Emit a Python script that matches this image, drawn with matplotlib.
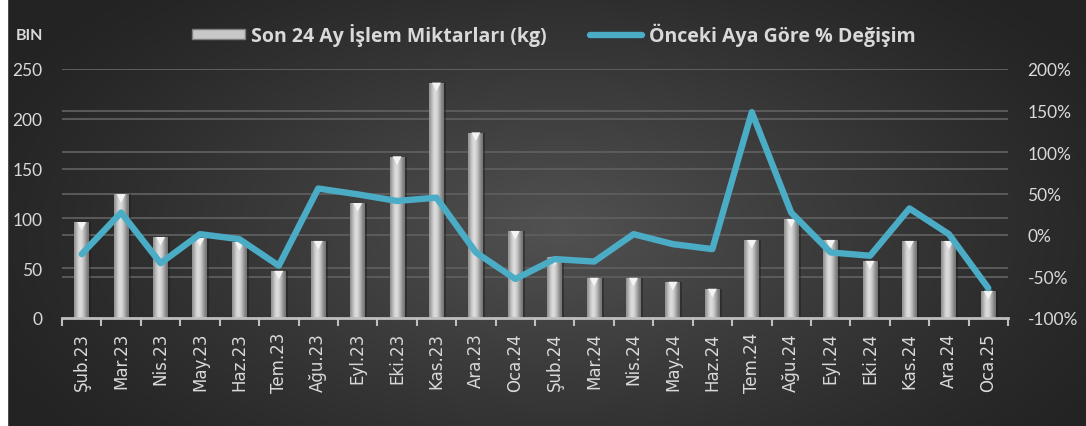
import numpy as np
import matplotlib
matplotlib.use("Agg")
import matplotlib.pyplot as plt
from matplotlib.patches import Patch, Rectangle
from matplotlib.lines import Line2D
from matplotlib.colors import LinearSegmentedColormap
import matplotlib.transforms as mtransforms

months = ["Şub.23", "Mar.23", "Nis.23", "May.23", "Haz.23", "Tem.23", "Ağu.23", "Eyl.23",
          "Eki.23", "Kas.23", "Ara.23", "Oca.24", "Şub.24", "Mar.24", "Nis.24", "May.24",
          "Haz.24", "Tem.24", "Ağu.24", "Eyl.24", "Eki.24", "Kas.24", "Ara.24", "Oca.25"]
volumes = [96, 124, 81, 80, 76, 47, 77, 115, 162, 236, 186, 87,
           61, 40, 40, 36, 29, 78, 99, 78, 57, 77, 77, 27]
pct_change = [-23, 27, -34, 1, -5, -37, 56, 49, 41, 45, -21, -53,
              -29, -32, 1, -11, -17, 148, 27, -21, -25, 32, 1, -64]

left_ticks = [0, 50, 100, 150, 200, 250]
right_ticks = [-100, -50, 0, 50, 100, 150, 200]
bar_label = "Son 24 Ay İşlem Miktarları (kg)"
line_label = "Önceki Aya Göre % Değişim"
unit_label = "BIN"

TXT = "#d9d9d9"
LINE_C = "#4bacc6"
FONT = "Lato"
GRID_C = "#5e5e5e"

W, H = 1086, 427
fig = plt.figure(figsize=(W / 100, H / 100), dpi=100)

# background radial gradient
bg = fig.add_axes([0, 0, 1, 1], zorder=-10)
yy, xx = np.mgrid[0:H, 0:W]
r = np.sqrt(((xx - 560) / 620.0) ** 2 + ((yy - 230) / 330.0) ** 2)
r = np.clip(r, 0, 1)
val = 0.14 + (0.32 - 0.14) * (1 - r) ** 1.2
bg.imshow(np.dstack([val, val, val]), aspect="auto", extent=[0, W, H, 0])
bg.set_xlim(0, W)
bg.set_ylim(H, 0)
bg.axis("off")
bg.add_patch(Rectangle((0, 0), 7, H, color="white", zorder=5))

ax = fig.add_axes([62 / W, (H - 319) / H, (1008 - 62) / W, (319 - 70) / H])
ax.patch.set_alpha(0)
ax2 = ax.twinx()
x = np.arange(len(months))

ax.set_xlim(-0.5, len(months) - 0.5)
ax.set_ylim(0, 250)
ax2.set_ylim(-100, 200)
ax.set_yticks(left_ticks)
for t in left_ticks[1:]:
    ax.axhline(t, color=GRID_C, lw=1.3, zorder=0)
# right-axis gridlines drawn behind the bars, using the right axis scale
for t in right_ticks[1:]:
    ax.add_line(Line2D([-0.5, len(months) - 0.5], [t, t], color=GRID_C, lw=1.3, zorder=0,
                       transform=ax2.transData))

bw = 0.38
bars = ax.bar(x, volumes, width=bw, color="none", zorder=2)
grad = np.array([[0.58, 0.70, 0.81, 0.87, 0.85, 0.78, 0.67, 0.56, 0.46]])
gcmap = LinearSegmentedColormap.from_list("g", ["#000000", "#ffffff"])
for b in bars:
    bx = b.get_x()
    bwid, bh = b.get_width(), b.get_height()
    ax.add_patch(Rectangle((bx + bwid, 0), 0.05, bh, color="#1c1c1c", alpha=0.45, zorder=1.5, lw=0))
    im = ax.imshow(grad, cmap=gcmap, vmin=0, vmax=1, aspect="auto",
                   extent=[bx, bx + bwid, 0, bh], zorder=2, interpolation="bicubic")
    im.set_clip_path(b)

off = mtransforms.ScaledTranslation(0, -4 / 100, fig.dpi_scale_trans)
ax.scatter(x, volumes, marker="v", s=40, color="#f4f4f4", edgecolors="none",
           zorder=3, transform=ax.transData + off)

ax.tick_params(axis="y", length=0, labelsize=12.5, labelcolor=TXT, pad=14)
for lab in ax.get_yticklabels():
    lab.set_family(FONT)
ax.set_xticks(np.arange(-0.5, len(months), 1.0))
ax.set_xticklabels([])
ax.set_xticks(x, minor=True)
ax.set_xticklabels(months, minor=True, rotation=90, fontsize=12, color=TXT,
                   family="DejaVu Sans")
ax.tick_params(axis="x", which="major", length=6, width=1.5, color="#bfbfbf", direction="out")
ax.tick_params(axis="x", which="minor", length=0, pad=10)
for s in ["top", "right", "left"]:
    ax.spines[s].set_visible(False)
ax.spines["bottom"].set_color("#bfbfbf")
ax.spines["bottom"].set_linewidth(2)

ax2.set_yticks(right_ticks)
ax2.set_yticklabels([f"{t}%" for t in right_ticks], family=FONT)
ax2.plot(x, pct_change, color=LINE_C, lw=4.6, solid_joinstyle="round",
         solid_capstyle="round", zorder=4)
ax2.tick_params(axis="y", length=0, labelsize=12.5, labelcolor=TXT, pad=14)
for s in ["top", "right", "left", "bottom"]:
    ax2.spines[s].set_visible(False)

handles = [Patch(facecolor="#c8c8c8", edgecolor="#7f7f7f", lw=1),
           Line2D([0], [0], color=LINE_C, lw=4.6, solid_capstyle="round")]
leg = fig.legend(handles, [bar_label, line_label], loc="center", bbox_to_anchor=(0.51, 0.918),
                 ncol=2, frameon=False, handlelength=2.7, handleheight=0.45,
                 handletextpad=0.35, columnspacing=2.2,
                 prop={"family": "Open Sans", "weight": "bold", "size": 14})
for t in leg.get_texts():
    t.set_color(TXT)

fig.text(16 / W, 1 - 36 / H, unit_label, color=TXT, fontsize=11.5, fontweight="bold",
         family=FONT, va="center", ha="left")

fig.savefig("out.png", dpi=100)
